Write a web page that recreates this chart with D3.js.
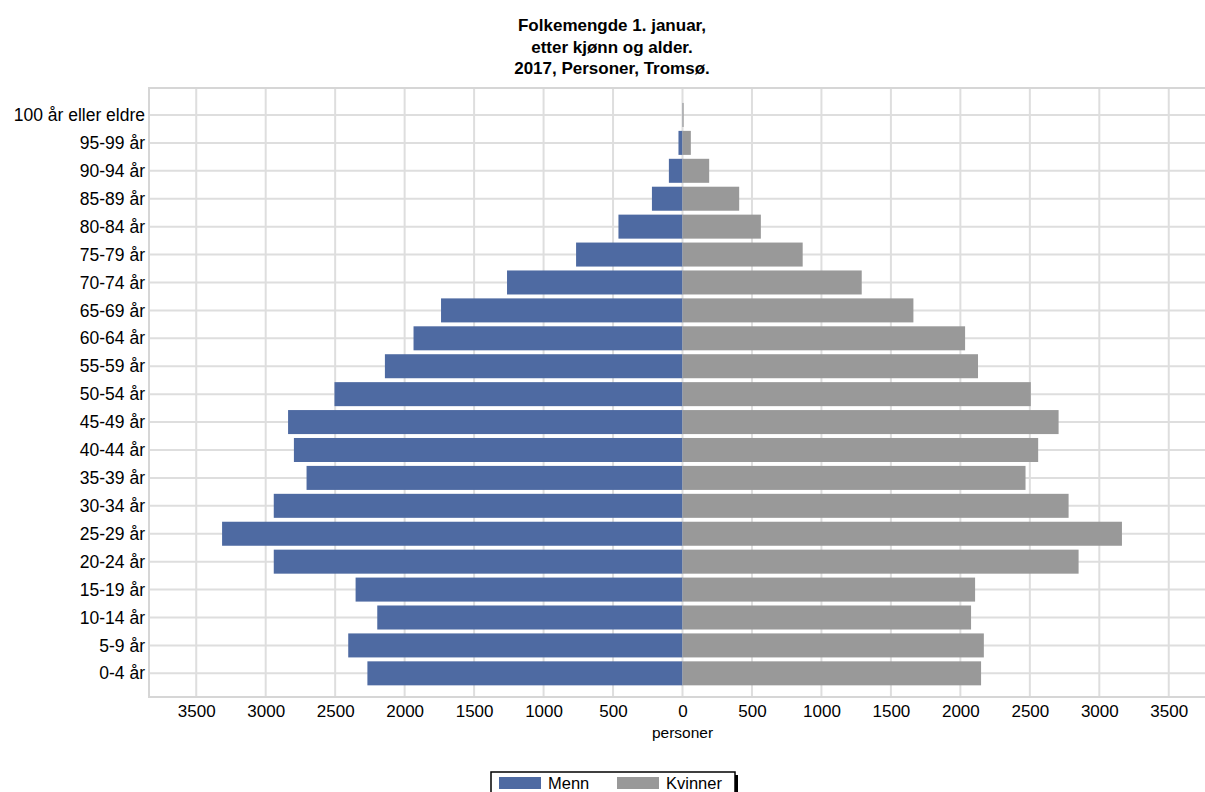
<!DOCTYPE html>
<html>
<head>
<meta charset="utf-8">
<script src="https://cdn.jsdelivr.net/npm/d3@7"></script>
<style>
  body { margin: 0; background: #fff; }
  text { font-family: "Liberation Sans", Arial, sans-serif; fill: #000; }
</style>
</head>
<body>
<div id="chart"></div>
<script>
// Aldersgrupper, fra yngst til eldst
const aldre = ['0-4 år', '5-9 år', '10-14 år', '15-19 år', '20-24 år', '25-29 år',
  '30-34 år', '35-39 år', '40-44 år', '45-49 år', '50-54 år', '55-59 år', '60-64 år',
  '65-69 år', '70-74 år', '75-79 år', '80-84 år', '85-89 år', '90-94 år', '95-99 år',
  '100 år eller eldre']
const menn = [2268, 2406, 2197, 2353, 2942, 3314, 2942, 2706, 2797, 2839, 2505,
  2142, 1936, 1738, 1263, 766, 461, 220, 98, 29, 1]
const kvinner = [2149, 2169, 2077, 2106, 2851, 3163, 2779, 2469, 2560, 2707, 2507,
  2127, 2034, 1662, 1290, 865, 564, 408, 192, 60, 8]
const tickVerdier = [-3500, -3000, -2500, -2000, -1500, -1000, -500, 0,
  500, 1000, 1500, 2000, 2500, 3000, 3500]
const tittel = ['Folkemengde 1. januar,', 'etter kjønn og alder.', '2017, Personer, Tromsø.']
const serier = ['Menn', 'Kvinner']

const bredde = 1205, hoyde = 792
const plott = { top: 88, bottom: 697, left: 149, right: 1216 }
const farge = { Menn: '#4e6aa2', Kvinner: '#999999' }

svg = d3.select('#chart').append('svg')
  .attr('width', bredde)
  .attr('height', hoyde)

x = d3.scaleLinear().domain([-3840, 3840]).range([plott.left, plott.right])
y = d3.scaleBand()
  .domain(aldre.slice().reverse())
  .range([101, 687.3])
  .paddingInner(0.14)
  .paddingOuter(0.07)

// Tittel
svg.append('g').selectAll('text')
  .data(tittel).enter()
  .append('text')
    .attr('x', 612)
    .attr('y', (d, i) => 31 + i * 21.5)
    .attr('text-anchor', 'middle')
    .style('font-weight', 'bold')
    .style('font-size', '17px')
    .text(d => d)

// Rutenett
grid = svg.append('g')
grid.selectAll('.vline')
  .data(tickVerdier).enter()
  .append('line')
    .attr('x1', d => x(d)).attr('x2', d => x(d))
    .attr('y1', plott.top).attr('y2', plott.bottom)
    .attr('stroke', '#dedede').attr('stroke-width', 2)
grid.selectAll('.hline')
  .data(aldre).enter()
  .append('line')
    .attr('x1', plott.left).attr('x2', plott.right)
    .attr('y1', d => y(d) + y.bandwidth() / 2)
    .attr('y2', d => y(d) + y.bandwidth() / 2)
    .attr('stroke', '#dedede').attr('stroke-width', 2)
grid.append('rect')
  .attr('x', plott.left).attr('y', plott.top)
  .attr('width', plott.right - plott.left)
  .attr('height', plott.bottom - plott.top)
  .attr('fill', 'none')
  .attr('stroke', '#d6d6d6').attr('stroke-width', 2)

// Søyler
svg.append('g').selectAll('rect')
  .data(aldre).enter()
  .append('rect')
    .attr('x', (d, i) => x(-menn[i]))
    .attr('y', d => y(d))
    .attr('width', (d, i) => x(0) - x(-menn[i]))
    .attr('height', y.bandwidth())
    .attr('fill', farge.Menn)
svg.append('g').selectAll('rect')
  .data(aldre).enter()
  .append('rect')
    .attr('x', x(0))
    .attr('y', d => y(d))
    .attr('width', (d, i) => x(kvinner[i]) - x(0))
    .attr('height', y.bandwidth())
    .attr('fill', farge.Kvinner)

// Akser
yAxis = svg.append('g')
  .attr('transform', `translate(${plott.left}, 0)`)
  .call(d3.axisLeft(y).tickSize(0).tickPadding(4))
yAxis.select('.domain').remove()
yAxis.selectAll('text')
  .style('font-size', '17.5px')
  .attr('dy', '0.35em')

xAxis = svg.append('g')
  .attr('transform', `translate(0, ${plott.bottom})`)
  .call(d3.axisBottom(x).tickValues(tickVerdier).tickSize(0).tickPadding(8)
    .tickFormat(d => Math.abs(d)))
xAxis.select('.domain').remove()
xAxis.selectAll('text').style('font-size', '17px')

svg.append('text')
  .attr('x', x(0))
  .attr('y', 738)
  .attr('text-anchor', 'middle')
  .style('font-size', '15.5px')
  .text('personer')

// Tegnforklaring
leg = svg.append('g').attr('transform', 'translate(491, 772)')
leg.append('rect')
  .attr('x', 3).attr('y', 3).attr('width', 244).attr('height', 30)
  .attr('fill', '#000')
leg.append('rect')
  .attr('x', 0).attr('y', 0).attr('width', 244).attr('height', 30)
  .attr('fill', '#fff').attr('stroke', '#000').attr('stroke-width', 1.5)
item = leg.selectAll('.item')
  .data(serier).enter()
  .append('g')
    .attr('transform', (d, i) => `translate(${8 + i * 118}, 5)`)
item.append('rect')
  .attr('width', 42).attr('height', 12)
  .attr('fill', d => farge[d])
item.append('text')
  .attr('x', 49).attr('y', 6)
  .attr('dy', '0.35em')
  .style('font-size', '16.5px')
  .text(d => d)
</script>
</body>
</html>
